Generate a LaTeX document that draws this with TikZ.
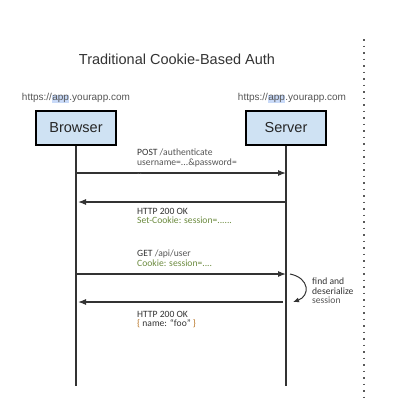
\documentclass[tikz,border=0pt]{standalone}
\usepackage{fontspec}
\setmainfont{Liberation Sans}
\newfontfamily\notefont{Carlito}
\usepackage{xcolor}
\usepackage{tikz}
\usetikzlibrary{arrows.meta}
\definecolor{boxblue}{HTML}{CFE2F3}
\definecolor{hiblue}{HTML}{C9DAF8}
\definecolor{linegray}{HTML}{333333}
\definecolor{cookiegreen}{HTML}{6B8A3E}
\definecolor{notegray}{HTML}{555555}
\definecolor{bracebrown}{HTML}{B5701F}
\newcommand\apphl[1]{{\setlength{\fboxsep}{0.4pt}\colorbox{hiblue}{#1}}}

\begin{document}
\begin{tikzpicture}[x=1pt,y=-1pt,
  party/.style={draw=black,line width=1.1pt,fill=boxblue,minimum width=80pt,minimum height=34pt,text=black!85,font=\fontsize{14.5}{16}\selectfont},
  url/.style={text=notegray,font=\fontsize{10}{12}\selectfont},
  note/.style={anchor=north west,align=left,inner sep=0pt,text=black!80,font=\notefont\fontsize{9.6}{9.4}\selectfont},
  msg/.style={draw=linegray,line width=1.1pt,-{Latex[length=8pt,width=6pt]}},
  life/.style={draw=linegray,line width=1.1pt}]
\useasboundingbox (0,0) rectangle (420,413);

\node[text=black!80,font=\fontsize{14.5}{16}\selectfont] (title) at (177,59) {Traditional Cookie-Based Auth};
\node[url] (burl) at (76,98) {https://\apphl{app}.yourapp.com};
\node[url] (surl) at (292,98) {https://\apphl{app}.yourapp.com};
\node[party] (browser) at (76,128) {Browser};
\node[party] (server) at (286,128) {Server};

% lifelines
\coordinate (bend) at (76,386);
\coordinate (send) at (286,386);
\draw[life] (browser.south) -- (bend);
\draw[life] (server.south) -- (send);

\foreach \n/\y in {1/173,2/202,3/274,4/302} {
  \coordinate (b\n) at (76,\y);
  \coordinate (s\n) at (286,\y);
}
\draw[msg] (b1) -- (s1);
\draw[msg] (s2) -- ([xshift=2pt]b2);
\draw[msg] (b3) -- (s3);
\draw[msg] ([xshift=-3pt]s4) -- ([xshift=2pt]b4);
\draw[msg,line width=1pt,-{Latex[length=6pt,width=5pt]}] ([xshift=4pt]s3) .. controls (310,278) and (310,296) .. ([xshift=7pt]s4);

\node[note] (post) at (137,149) {POST \textcolor{notegray}{/authenticate}\\\textcolor{notegray}{username=...\&password=}\\\textcolor{notegray}{..}};
\node[note] (ok1) at (137,208) {HTTP 200 OK\\\textcolor{cookiegreen}{Set-Cookie: session=......}};
\node[note] (get) at (137,250) {GET \textcolor{notegray}{/api/user}\\\textcolor{cookiegreen}{Cookie: session=....}};
\node[note] (ok2) at (137,311) {HTTP 200 OK\\\textcolor{bracebrown}{\{} name: “foo” \textcolor{bracebrown}{\}}};
\node[note,anchor=west] (find) at (312,291) {find and\\deserialize\\\textcolor{notegray}{session}};

% divider
\coordinate (dtop) at (364,39);
\coordinate (dbot) at (364,398);
\draw[black!65,line width=1.5pt,dash pattern=on 1.5pt off 5pt] (dtop) -- (dbot);
\end{tikzpicture}
\end{document}
